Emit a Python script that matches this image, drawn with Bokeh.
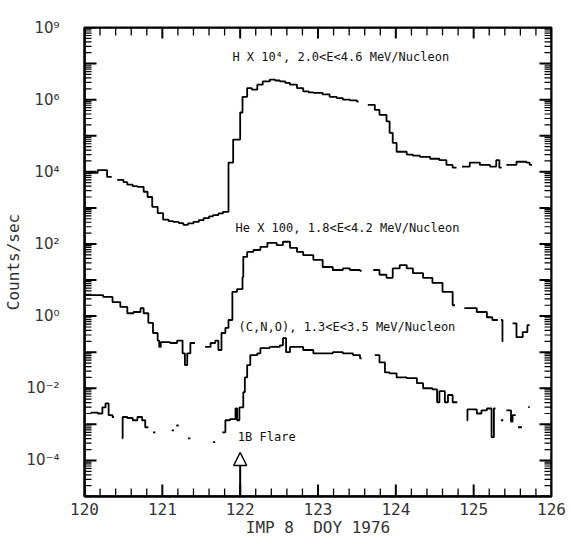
from bokeh.plotting import figure
from bokeh.models import (FixedTicker, Label, Arrow, NormalHead, Range1d,
                          CustomJSTickFormatter)
from bokeh.embed import file_html
from bokeh.resources import INLINE

# ---------------- data ----------------
day_limits = [120, 126]
count_limits = [1e-5, 1e8]

x_major_ticks = [120, 121, 122, 123, 124, 125, 126]
x_minor_ticks = [120.2, 120.4, 120.6, 120.8, 121.2, 121.4, 121.6, 121.8,
                 122.2, 122.4, 122.6, 122.8, 123.2, 123.4, 123.6, 123.8,
                 124.2, 124.4, 124.6, 124.8, 125.2, 125.4, 125.6, 125.8]
x_tick_labels = ["120", "121", "122", "123", "124", "125", "126"]

y_decades = [-5, -4, -3, -2, -1, 0, 1, 2, 3, 4, 5, 6, 7, 8]
y_label_decades = [8, 6, 4, 2, 0, -2, -4]
y_tick_labels = ["10⁹", "10⁶", "10⁴", "10²", "10⁰", "10⁻²", "10⁻⁴"]

# H x 10^4 (None = gap)
h_day = [120.05, 120.17, 120.24, 120.29, 120.35, None,
         120.42, 120.50, 120.55, 120.62, 120.68, 120.76, 120.81, 120.87, 120.94,
         121.01, 121.08, 121.14, 121.21, 121.27, 121.33, 121.40, 121.47, 121.53,
         121.60, 121.65, 121.72, 121.78, 121.85, 121.91, 122.00, 122.03, 122.09,
         122.15, 122.22, 122.29, 122.38, 122.45, 122.51, 122.58, 122.64, 122.73,
         122.81, 122.88, 122.94, 123.06, 123.15, 123.24, 123.32, 123.41, 123.50,
         123.52, None,
         123.64, 123.73, 123.79, 123.88, 123.92, 123.96, 124.01, 124.14, 124.22,
         124.31, 124.44, 124.56, 124.65, 124.73, 124.78, None,
         124.85, 124.95, 125.08, 125.21, 125.29, 125.33, 125.36, None,
         125.42, 125.55, 125.68, 125.72, 125.75]
h_val = [9.3e3, 1.12e4, 1.12e4, 7.2e3, 7.2e3, None,
         6.0e3, 5.2e3, 4.4e3, 4.0e3, 3.8e3, 2.8e3, 2.0e3, 1.07e3, 7.2e2,
         4.7e2, 4.3e2, 4.1e2, 3.8e2, 3.4e2, 3.7e2, 4.1e2, 4.6e2, 5.2e2,
         5.8e2, 6.3e2, 7.0e2, 7.8e2, 1.8e4, 7.8e4, 4.4e5, 1.2e6, 2.1e6,
         1.9e6, 2.6e6, 3.2e6, 3.6e6, 3.4e6, 3.2e6, 2.9e6, 2.6e6, 2.1e6,
         1.7e6, 1.6e6, 1.55e6, 1.4e6, 1.2e6, 1.1e6, 1.0e6, 9.5e5, 8.9e5,
         8.9e5, None,
         7.2e5, 5.2e5, 3.8e5, 2.5e5, 1.2e5, 6.3e4, 3.6e4, 3.0e4, 2.8e4,
         2.6e4, 2.3e4, 2.1e4, 1.55e4, 1.3e4, 1.3e4, None,
         1.4e4, 1.8e4, 1.55e4, 1.4e4, 2.1e4, 1.3e4, 1.3e4, None,
         1.55e4, 1.9e4, 1.8e4, 1.55e4, 1.55e4]

# He x 100
he_day = [120.01, 120.12, 120.24, 120.36, 120.46, 120.55, 120.63, 120.72,
          120.76, 120.82, 120.88, 120.94, 120.96, 120.98, 121.10, 121.19,
          121.26, 121.29, 121.32, 121.36, 121.40, 121.42, None,
          121.55, 121.62, 121.68, 121.72, 121.76, 121.81, 121.85, 121.90,
          121.96, 122.03, 122.04, 122.09, 122.17, 122.26, 122.35, 122.47,
          122.55, 122.64, 122.73, 122.81, 122.94, 123.06, 123.19, 123.32,
          123.41, 123.54, 123.56, None,
          123.71, 123.79, 123.88, 123.96, 124.05, 124.14, 124.22, 124.35,
          124.47, 124.60, 124.73, 124.76, None,
          124.88, 125.04, 125.17, 125.24, 125.31, None,
          125.35, 125.37, 125.38, None,
          125.50, 125.55, 125.63, 125.69, 125.72]
he_val = [3.8, 3.8, 3.4, 2.45, 1.8, 1.2, 1.3, 1.66,
          1.2, 0.65, 0.34, 0.21, 0.14, 0.19, 0.18, 0.21,
          0.093, 0.044, 0.093, 0.18, 0.18, 0.18, None,
          0.14, 0.18, 0.21, 0.115, 0.34, 0.47, 0.78, 4.7,
          5.6, 12.0, 44.0, 60.0, 68.0, 83.0, 107.0, 93.0,
          115.0, 78.0, 60.0, 49.0, 36.0, 23.0, 19.0, 21.0,
          19.0, 18.0, 18.0, None,
          19.0, 14.0, 11.5, 21.0, 26.0, 21.0, 15.5, 11.5,
          8.3, 4.7, 2.0, 2.0, None,
          1.66, 1.3, 0.93, 0.78, 0.78, None,
          0.78, 0.2, 0.2, None,
          0.63, 0.26, 0.36, 0.56, 0.56]

# (C,N,O)
cno_day = [120.08, 120.17, 120.23, 120.27, 120.31, 120.36, 120.38, None,
           120.48, 120.49, 120.55, 120.62, 120.68, 120.74, 120.78, 120.82, None,
           120.88, 120.91, None,
           121.12, 121.15, None,
           121.18, 121.21, None,
           121.33, 121.36, None,
           121.65, 121.68, None,
           121.77, 121.81, 121.87, 121.94, 121.96, 121.99, 122.04, 122.06,
           122.09, 122.13, 122.22, 122.26, 122.38, 122.51, 122.55, 122.59,
           122.64, 122.81, 122.94, 123.06, 123.19, 123.32, 123.45, 123.54,
           123.56, None,
           123.73, 123.79, 123.86, 123.92, 124.01, 124.14, 124.27, 124.35,
           124.47, 124.53, 124.56, 124.63, 124.67, 124.73, 124.79, None,
           124.91, 124.92, 125.04, 125.10, 125.17, 125.23, 125.26, 125.28, None,
           125.35, 125.38, None,
           125.42, 125.48, 125.50, 125.54, None,
           125.57, 125.62, None,
           125.70, 125.72]
cno_val = [2.1e-3, 2.0e-3, 2.95e-3, 3.8e-3, 1.8e-3, 1.6e-3, 1.6e-3, None,
           4.1e-4, 1.6e-3, 1.5e-3, 1.3e-3, 1.6e-3, 1.3e-3, 8.3e-4, 8.3e-4, None,
           6.0e-4, 6.0e-4, None,
           6.8e-4, 6.8e-4, None,
           9.3e-4, 9.3e-4, None,
           4.1e-4, 4.1e-4, None,
           3.2e-4, 3.2e-4, None,
           6.0e-4, 1.3e-3, 1.4e-3, 2.75e-3, 1.3e-3, 2.95e-3, 7.8e-3, 0.020,
           0.044, 0.083, 0.093, 0.13, 0.14, 0.155, 0.245, 0.10,
           0.14, 0.115, 0.093, 0.093, 0.10, 0.093, 0.083, 0.068,
           0.068, None,
           0.083, 0.052, 0.0275, 0.026, 0.020, 0.019, 0.0138, 0.010,
           9.3e-3, 4.1e-3, 8.3e-3, 4.1e-3, 6.5e-3, 4.1e-3, 4.1e-3, None,
           1.3e-3, 2.6e-3, 2.0e-3, 2.45e-3, 2.75e-3, 4.4e-4, 2.75e-3, 2.75e-3, None,
           1.3e-3, 1.3e-3, None,
           2.45e-3, 1.2e-3, 1.8e-3, 1.8e-3, None,
           8.3e-4, 8.3e-4, None,
           3.0e-3, 3.0e-3]

series_labels = ["H X 10⁴, 2.0<E<4.6 MeV/Nucleon",
                 "He X 100, 1.8<E<4.2 MeV/Nucleon",
                 "(C,N,O), 1.3<E<3.5 MeV/Nucleon"]
flare_label = "1B Flare"
flare_day = 122.0
x_title = "IMP 8 \u00a0DOY 1976"
y_title = "Counts/sec"

# ---------------- layout / style ----------------
INK = "black"
MONO = "DejaVu Sans Mono"

W, H = 570, 539
BL, BR, BT, BB = 84, 19, 27, 43
FRAME_W = W - BL - BR
FRAME_H = H - BT - BB

p = figure(width=W, height=H, y_axis_type="log",
           x_range=Range1d(day_limits[0], day_limits[1]),
           y_range=Range1d(count_limits[0], count_limits[1]),
           output_backend="svg", toolbar_location=None,
           min_border_left=BL, min_border_right=BR,
           min_border_top=BT, min_border_bottom=BB)
p.xgrid.grid_line_color = None
p.ygrid.grid_line_color = None
p.outline_line_color = INK
p.outline_line_width = 2

y_labeled = [10.0 ** d for d in y_label_decades]
y_decade_vals = [10.0 ** d for d in y_decades]
y_minor = [k * 10.0 ** d for d in y_decades[:-1] for k in range(2, 10)]

ylab_formatter = CustomJSTickFormatter(
    args=dict(decs=list(y_label_decades), labs=list(y_tick_labels)),
    code="""
    const e = Math.round(Math.log10(tick));
    const i = decs.indexOf(e);
    return i >= 0 ? labs[i] : "";
""")
xlab_formatter = CustomJSTickFormatter(
    args=dict(vals=list(x_major_ticks), labs=list(x_tick_labels)),
    code="""
    const i = vals.indexOf(Math.round(tick));
    return i >= 0 ? labs[i] : "";
""")

for ax in (p.xaxis[0], p.yaxis[0]):
    ax.axis_line_color = INK
    ax.axis_line_width = 2
    ax.major_tick_in = 0
    ax.major_tick_out = 0
    ax.minor_tick_in = 0
    ax.minor_tick_out = 0
    ax.major_label_text_color = "#333333"
    ax.axis_label_text_font_style = "normal"
    ax.axis_label_text_color = "#333333"

xb = p.xaxis[0]
xb.ticker = FixedTicker(ticks=list(x_major_ticks), minor_ticks=[])
xb.formatter = xlab_formatter
xb.major_label_text_font = MONO
xb.major_label_text_font_size = "16px"
xb.major_label_standoff = 6
xb.axis_label = x_title
xb.axis_label_text_font = MONO
xb.axis_label_text_font_size = "16px"
xb.axis_label_standoff = 0

yl = p.yaxis[0]
yl.ticker = FixedTicker(ticks=list(y_labeled), minor_ticks=[])
yl.formatter = ylab_formatter
yl.major_label_text_font = "DejaVu Sans"
yl.major_label_text_font_size = "15px"
yl.major_label_standoff = 25
yl.axis_label = y_title
yl.axis_label_text_font = MONO
yl.axis_label_text_font_size = "16px"
yl.axis_label_standoff = 0

# ---- inward tick marks on all four frame edges, drawn as one zig-zag
#      step line per edge (the return path runs along the frame edge) ----
days_per_px = (day_limits[1] - day_limits[0]) / FRAME_W
decades_per_px = (y_decades[-1] - y_decades[0]) / FRAME_H


def x_edge_ticks(xs, px_len, edge, inward_factor, width):
    tip = edge * inward_factor ** (px_len * decades_per_px)
    zx, zy = [], []
    for x in sorted(xs):
        zx += [x, x, x]
        zy += [edge, tip, edge]
    p.step(zx, zy, mode="after", line_color=INK, line_width=width)


def y_edge_ticks(ys, px_len, edge, sign, width):
    tip = edge + sign * px_len * days_per_px
    zx, zy = [], []
    for y in sorted(ys):
        zx += [edge, tip, edge]
        zy += [y, y, y]
    p.step(zx, zy, mode="after", line_color=INK, line_width=width)


x_edge_ticks(x_major_ticks, 12, count_limits[0], 10.0, 2)
x_edge_ticks(x_minor_ticks, 8, count_limits[0], 10.0, 1.3)
x_edge_ticks(x_major_ticks, 11, count_limits[1], 0.1, 2)
x_edge_ticks(x_minor_ticks, 8, count_limits[1], 0.1, 1.3)
y_edge_ticks(y_decade_vals, 12, day_limits[0], 1, 2)
y_edge_ticks(y_minor, 7, day_limits[0], 1, 1.2)
y_edge_ticks(y_decade_vals, 12, day_limits[1], -1, 2)
y_edge_ticks(y_minor, 7, day_limits[1], -1, 1.2)


def segments(xs, ys):
    sx, sy = [], []
    for x, y in zip(xs, ys):
        if x is None:
            if sx:
                yield sx, sy
            sx, sy = [], []
        else:
            sx.append(x)
            sy.append(y)
    if sx:
        yield sx, sy


for xs, ys in [(h_day, h_val), (he_day, he_val), (cno_day, cno_val)]:
    for sx, sy in segments(xs, ys):
        p.step(sx, sy, mode="after", line_color=INK, line_width=1.8)

label_pos = [(121.90, 1.5e7), (121.94, 2.7e2), (121.98, 0.49)]
for (lx, ly), txt in zip(label_pos, series_labels):
    p.add_layout(Label(x=lx, y=ly, text=txt, text_font=MONO,
                       text_font_size="12px", text_color="#111111",
                       text_baseline="middle"))

p.add_layout(Label(x=121.97, y=4.4e-4, text=flare_label, text_font=MONO,
                   text_font_size="12px", text_color="#111111",
                   text_baseline="middle"))
p.add_layout(Arrow(end=NormalHead(size=13, fill_color="white", line_color=INK,
                                  line_width=1.5),
                   x_start=flare_day, y_start=count_limits[0],
                   x_end=flare_day, y_end=1.66e-4,
                   line_color=INK, line_width=2))

open("out.html", "w").write(file_html(p, INLINE))
